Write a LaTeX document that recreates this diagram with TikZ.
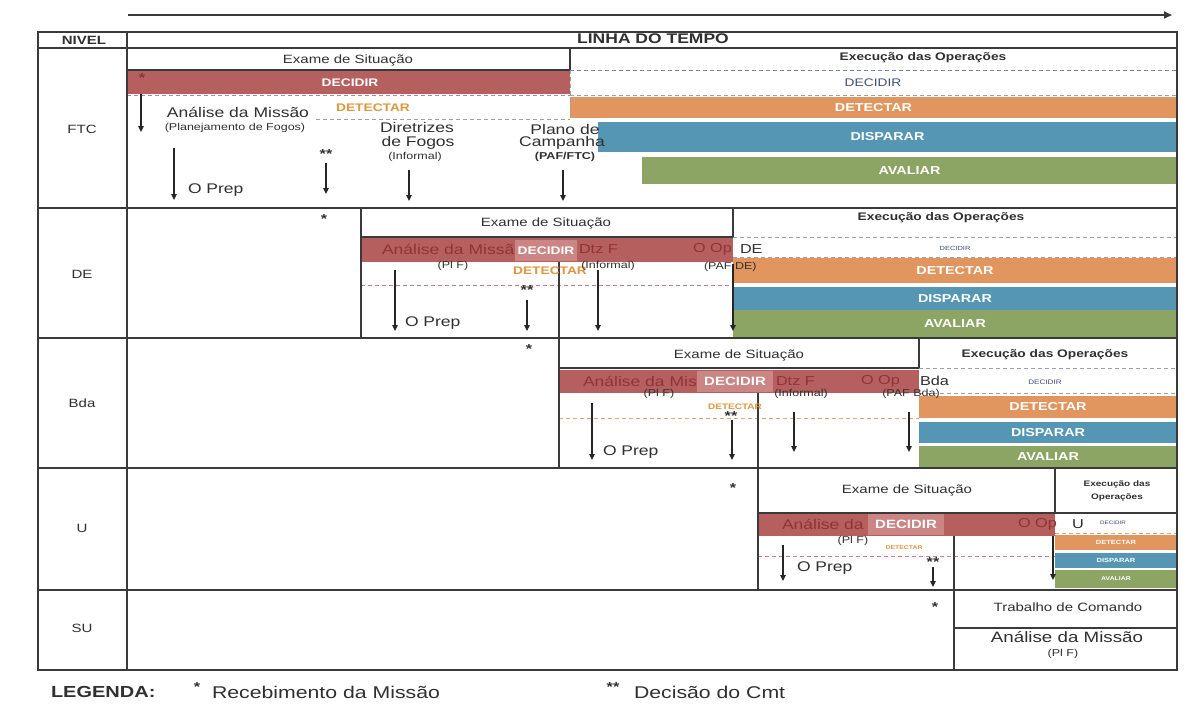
\documentclass[tikz,border=0pt]{standalone}
\usepackage{fontspec}
\setmainfont{Liberation Sans}[FakeStretch=1.25]
\usetikzlibrary{arrows.meta}

\definecolor{gridc}{HTML}{3A3A3A}
\definecolor{redbar}{HTML}{B5605F}
\definecolor{redbox}{HTML}{CC8585}
\definecolor{redtxt}{HTML}{8E3434}
\definecolor{orangebar}{HTML}{E1965F}
\definecolor{bluebar}{HTML}{5496B4}
\definecolor{greenbar}{HTML}{8CA564}
\definecolor{orangetxt}{HTML}{E0963F}
\definecolor{navytxt}{HTML}{404C80}
\definecolor{dashblue}{HTML}{7080B8}
\definecolor{dashgrey}{HTML}{A0A0A0}
\definecolor{dashred}{HTML}{C98080}
\definecolor{dashorange}{HTML}{E0A070}
\definecolor{txtc}{HTML}{303030}

\newcommand\fsz[1]{\fontsize{#1}{#1}\selectfont}
% coloured phase bar: name, x1, y1, x2, y2, colour, font size, label
\newcommand\tlbar[8]{\node[phasebar, fill=#6, font=\fsz{#7}\bfseries,
  minimum width={(#4-#2)*1pt}, minimum height={(#5-#3)*1pt}]
  (#1) at ({(#2+#4)/2},{(#3+#5)/2}) {#8};}
% vertical step arrow: name, x, y start, y end
\newcommand\steparrow[4]{\coordinate (#1-s) at (#2,#3);
  \coordinate (#1-e) at (#2,#4); \draw[dnarr] (#1-s) -- (#1-e);}

\begin{document}
\begin{tikzpicture}[x=1pt,y=-1pt,
  grid/.style={draw=gridc, line width=1.5pt},
  txt/.style={inner sep=0pt, outer sep=0pt, text=txtc, font=\fsz{#1}},
  btxt/.style={inner sep=0pt, outer sep=0pt, text=txtc, font=\fsz{#1}\bfseries},
  rtxt/.style={inner sep=0pt, outer sep=0pt, text=redtxt, font=\fsz{#1}},
  otxt/.style={inner sep=0pt, outer sep=0pt, text=orangetxt, font=\fsz{#1}\bfseries},
  ntxt/.style={inner sep=0pt, outer sep=0pt, text=navytxt, font=\fsz{#1}},
  wtxt/.style={inner sep=0pt, outer sep=0pt, text=white, font=\fsz{#1}\bfseries},
  phasebar/.style={draw=none, inner sep=0pt, outer sep=0pt, text=white},
  dnarr/.style={draw=black!85, line width=1.1pt, -{Triangle[length=6pt,width=5.5pt]}},
  dashln/.style={draw=#1, line width=1pt, dash pattern=on 4pt off 3pt},
]
\useasboundingbox[fill=white] (0,0) rectangle (1203,705);

% time axis
\coordinate (axis-s) at (128,15);
\coordinate (axis-e) at (1172,15);
\draw[draw=gridc, line width=1.6pt, -{Triangle[length=8pt,width=7pt]}] (axis-s) -- (axis-e);

% ---------- FTC bars ----------
\tlbar{ftcdec}{127}{70}{570}{94}{redbar}{11}{}
\tlbar{ftcdet}{570}{97}{1177}{118}{orangebar}{11.5}{DETECTAR}
\tlbar{ftcdis}{598}{122}{1177}{152}{bluebar}{11.5}{DISPARAR}
\tlbar{ftcava}{642}{157}{1177}{184}{greenbar}{11.5}{AVALIAR}
\draw[dashln=dashblue] (570,70) -- (1177,70);
\draw[dashln=dashred] (127,95) -- (570,95);
\draw[dashln=dashgrey] (570,95) -- (1177,95);
\draw[dashln=dashgrey] (316,119) -- (570,119);
\draw[dashln=dashgrey] (570,70) -- (570,118);

% ---------- DE bars ----------
\tlbar{dedec}{361}{238}{733}{262}{redbar}{11}{}
\tlbar{dedet}{733}{258}{1177}{283}{orangebar}{11.5}{DETECTAR}
\tlbar{dedis}{733}{287}{1177}{310}{bluebar}{11.5}{DISPARAR}
\tlbar{deava}{733}{310}{1177}{337}{greenbar}{11.5}{AVALIAR}
\draw[dashln=dashgrey] (733,237) -- (1177,237);
\draw[dashln=dashgrey] (733,257) -- (1177,257);
\draw[dashln=dashred] (361,285) -- (733,285);

% ---------- Bda bars ----------
\tlbar{bdadec}{559}{370}{919}{393}{redbar}{11}{}
\tlbar{bdadet}{919}{396}{1177}{418}{orangebar}{11.5}{DETECTAR}
\tlbar{bdadis}{919}{422}{1177}{443}{bluebar}{11.5}{DISPARAR}
\tlbar{bdaava}{919}{446}{1177}{467}{greenbar}{11.5}{AVALIAR}
\draw[dashln=dashgrey] (919,368) -- (1177,368);
\draw[dashln=dashgrey] (919,393) -- (1177,393);
\draw[dashln=dashorange] (559,418) -- (919,418);

% ---------- U bars ----------
\tlbar{udec}{758}{513}{1055}{536}{redbar}{11}{}
\tlbar{udet}{1055}{535}{1177}{550}{orangebar}{6}{DETECTAR}
\tlbar{udis}{1055}{553}{1177}{568}{bluebar}{6}{DISPARAR}
\tlbar{uava}{1055}{570}{1177}{588}{greenbar}{5.5}{AVALIAR}
\draw[dashln=dashorange] (1055,533) -- (1177,533);
\draw[dashln=dashred] (758,556) -- (1055,556);

% ---------- table grid ----------
\draw[grid] (38,32) rectangle (1177,670);
\draw[grid] (38,48) -- (1177,48);
\draw[grid] (127,32) -- (127,670);
\foreach \yy in {208,338,468,590} \draw[grid] (38,\yy) -- (1177,\yy);
% FTC
\draw[grid] (570,48) -- (570,70);
\draw[grid] (127,70) -- (570,70);
% DE
\draw[grid] (361,208) -- (361,338);
\draw[grid] (361,237) -- (733,237);
\draw[grid] (733,208) -- (733,237);
% Bda
\draw[grid] (559,262) -- (559,468);
\draw[grid] (559,368) -- (919,368);
\draw[grid] (919,338) -- (919,368);
% U
\draw[grid] (758,393) -- (758,590);
\draw[grid] (758,513) -- (1177,513);
\draw[grid] (1055,468) -- (1055,513);
% SU
\draw[grid] (954,536) -- (954,670);
\draw[grid] (954,628) -- (1177,628);

% ---------- headers ----------
\node[btxt=12] (hniv) at (84,40) {NIVEL};
\node[btxt=14] (hlinha) at (653,39) {LINHA DO TEMPO};
\node[txt=12] (lvftc) at (82,129) {FTC};
\node[txt=12] (lvde) at (82,274) {DE};
\node[txt=12] (lvbda) at (82,403) {Bda};
\node[txt=12] (lvu) at (82,528) {U};
\node[txt=12] (lvsu) at (82,628) {SU};

% ---------- FTC texts ----------
\node[txt=12] (ftcex) at (348,60) {Exame de Situação};
\node[btxt=11] (ftcop) at (923,58) {Execução das Operações};
\node[btxt=13, text=redtxt] (ftcst) at (142,78) {*};
\node[wtxt=11] (ftcdl) at (350,83) {DECIDIR};
\node[ntxt=11] (ftcdn) at (873,83) {DECIDIR};
\node[otxt=11] (ftcdo) at (373,108) {DETECTAR};
\node[txt=14] (ftcam) at (238,112) {Análise da Missão};
\node[txt=10] (ftcpf) at (235,128) {(Planejamento de Fogos)};
\node[txt=14, anchor=west] (ftcop1) at (188,190) {O Prep};
\node[btxt=13] (ftcdc) at (326,154) {**};
\node[txt=14] (ftcdf1) at (417,127) {Diretrizes};
\node[txt=14] (ftcdf2) at (418,143) {de Fogos};
\node[txt=10] (ftcdf3) at (415,157) {(Informal)};
\node[txt=14] (ftcpc1) at (565,129) {Plano de};
\node[txt=14] (ftcpc2) at (562,143) {Campanha};
\node[btxt=10] (ftcpc3) at (565,157) {(PAF/FTC)};

% ---------- DE texts ----------
\node[btxt=13] (dest) at (324,219) {*};
\node[txt=12] (deex) at (546,223) {Exame de Situação};
\node[btxt=11] (deop) at (941,218) {Execução das Operações};
\node[rtxt=14, anchor=west] (deam) at (382,249) {Análise da Missão};
\tlbar{dedecbox}{515}{240}{577}{261}{redbox}{11}{DECIDIR}
\node[rtxt=13, anchor=west] (dedz) at (579,249) {Dtz F};
\node[rtxt=13, anchor=west] (deoo) at (693,249) {O Op};
\node[txt=13, anchor=west] (deoo2) at (740,249) {DE};
\node[ntxt=6] (dedn) at (955,248) {DECIDIR};
\node[txt=10] (depl) at (453,266) {(Pl F)};
\node[otxt=11] (dedo) at (550,271) {DETECTAR};
\node[txt=10] (dein) at (608,266) {(Informal)};
\node[txt=10, anchor=west] (depaf) at (704,267) {(PAF DE)};
\node[btxt=13] (dedc) at (527,290) {**};
\node[txt=14, anchor=west] (deprep) at (405,323) {O Prep};

% ---------- Bda texts ----------
\node[btxt=13] (bdast) at (529,349) {*};
\node[txt=12] (bdaex) at (739,355) {Exame de Situação};
\node[btxt=11] (bdaop) at (1045,355) {Execução das Operações};
\node[rtxt=14, anchor=west] (bdaam) at (583,381) {Análise da Missão};
\tlbar{bdadecbox}{697}{371}{773}{392}{redbox}{12}{DECIDIR}
\node[rtxt=13, anchor=west] (bdadz) at (776,381) {Dtz F};
\node[rtxt=13, anchor=west] (bdaoo) at (861,381) {O Op};
\node[txt=13, anchor=west] (bdaoo2) at (920,381) {Bda};
\node[ntxt=6.5] (bdadn) at (1045,382) {DECIDIR};
\node[txt=10] (bdapl) at (659,394) {(Pl F)};
\node[txt=10] (bdain) at (801,394) {(Informal)};
\node[txt=10] (bdapaf) at (911,394) {(PAF Bda)};
\node[otxt=8] (bdado) at (735,407) {DETECTAR};
\node[btxt=13] (bdadc) at (731,416) {**};
\node[txt=14, anchor=west] (bdaprep) at (603,452) {O Prep};

% ---------- U texts ----------
\node[btxt=13] (ust) at (733,488) {*};
\node[txt=12] (uex) at (907,490) {Exame de Situação};
\node[btxt=8] (uop1) at (1117,484) {Execução das};
\node[btxt=8] (uop2) at (1117,497) {Operações};
\node[rtxt=14, anchor=west] (uam) at (782,524) {Análise da};
\tlbar{udecbox}{868}{514}{944}{535}{redbox}{12}{DECIDIR}
\node[rtxt=13, anchor=west] (uoo) at (1018,524) {O Op};
\node[txt=13, anchor=west] (uoo2) at (1072,524) {U};
\node[ntxt=5] (udn) at (1113,523) {DECIDIR};
\node[txt=10] (upl) at (853,541) {(Pl F)};
\node[otxt=5.5] (udo) at (904,548) {DETECTAR};
\node[btxt=13] (udc) at (933,562) {**};
\node[txt=14, anchor=west] (uprep) at (797,568) {O Prep};

% ---------- SU texts ----------
\node[btxt=13] (sust) at (935,607) {*};
\node[txt=12] (sutc) at (1068,607) {Trabalho de Comando};
\node[txt=15] (suam) at (1067,637) {Análise da Missão};
\node[txt=10] (supl) at (1063,654) {(Pl F)};

% ---------- legend ----------
\node[btxt=16, anchor=west] (lg) at (51,692) {LEGENDA:};
\node[btxt=13] (lgst1) at (197,687) {*};
\node[txt=17, anchor=west] (lgrm) at (212,692) {Recebimento da Missão};
\node[btxt=13] (lgst2) at (613,687) {**};
\node[txt=17, anchor=west] (lgdc) at (634,692) {Decisão do Cmt};

% ---------- step arrows ----------
\steparrow{fa1}{141}{94}{132}
\steparrow{fa2}{174}{148}{200}
\steparrow{fa3}{326}{163}{194}
\steparrow{fa4}{409}{170}{201}
\steparrow{fa5}{563}{170}{201}
\steparrow{da1}{395}{270}{331}
\steparrow{da2}{527}{300}{331}
\steparrow{da3}{598}{270}{331}
\steparrow{da4}{733}{264}{331}
\steparrow{ba1}{592}{403}{460}
\steparrow{ba2}{732}{420}{460}
\steparrow{ba3}{794}{412}{452}
\steparrow{ba4}{909}{412}{452}
\steparrow{ua1}{783}{545}{581}
\steparrow{ua2}{933}{567}{587}
\steparrow{ua3}{1053}{536}{580}
\end{tikzpicture}
\end{document}
